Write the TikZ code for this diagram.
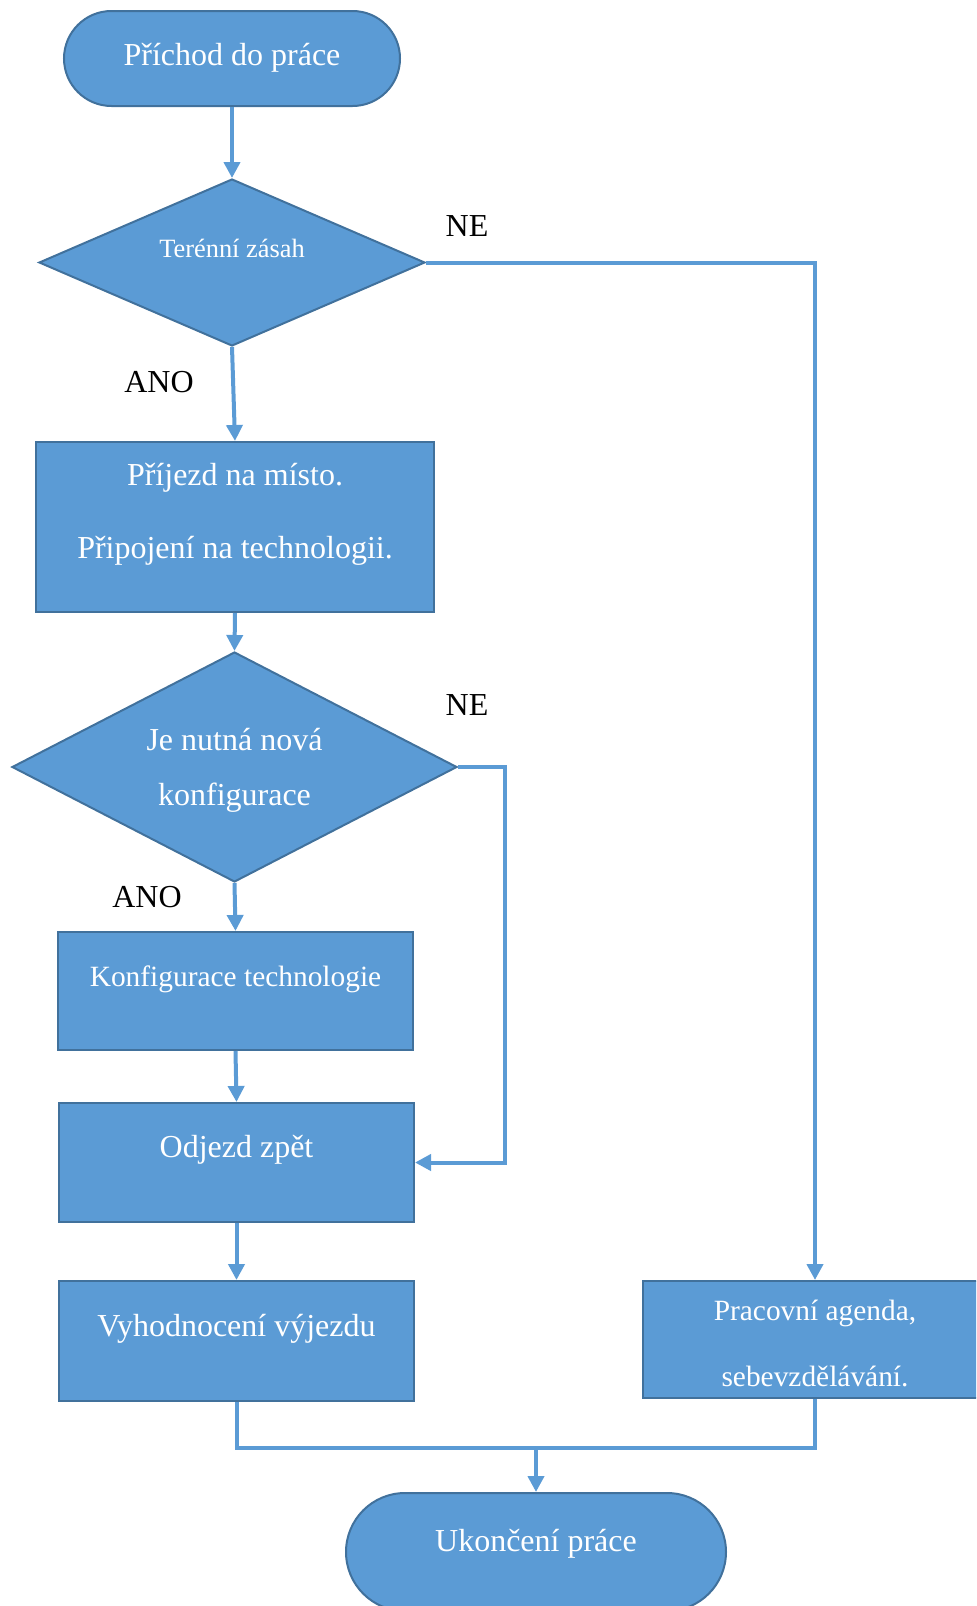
\documentclass[tikz,border=0pt]{standalone}
\usepackage{fontspec}
\setmainfont{Liberation Serif}
\usetikzlibrary{shapes.geometric,arrows.meta}
\definecolor{fillblue}{HTML}{5B9BD5}
\definecolor{edgeblue}{HTML}{41719C}
\begin{document}
\begin{tikzpicture}[x=0.5pt,y=-0.5pt,
  shapebase/.style={draw=edgeblue,fill=fillblue,line width=1pt,inner sep=0pt},
  procbox/.style={shapebase,rectangle},
  termbox/.style={shapebase,rectangle,rounded corners=#1},
  decbox/.style={shapebase,diamond},
  intext/.style={text=white,font=\fontsize{16}{19}\selectfont,anchor=base,inner sep=0pt},
  smalltext/.style={intext,font=\fontsize{14.7}{18}\selectfont},
  lbl/.style={text=black,font=\fontsize{16}{19}\selectfont,anchor=base,inner sep=0pt},
  conn/.style={draw=fillblue,line width=2pt},
  arr/.style={conn,-{Triangle[length=8pt,width=8pt]}}]
\clip (0,0) rectangle (976,1606);
\useasboundingbox (0,0) rectangle (976,1606);
% shapes
\node[termbox=23.75pt,minimum width=168pt,minimum height=47.5pt] (start) at (232,58.5) {};
\node[decbox,minimum width=193pt,minimum height=83.5pt] (d1) at (232,262.5) {};
\node[procbox,minimum width=199pt,minimum height=85pt] (box1) at (235,527) {};
\node[decbox,minimum width=222.5pt,minimum height=115pt] (d2) at (234.5,767) {};
\node[procbox,minimum width=177.5pt,minimum height=59pt] (box2) at (235.5,991) {};
\node[procbox,minimum width=177.5pt,minimum height=59.5pt] (box3) at (236.5,1162.5) {};
\node[procbox,minimum width=177.5pt,minimum height=60pt] (box4) at (236.5,1341) {};
\node[procbox,minimum width=172pt,minimum height=58.5pt] (box5) at (815,1339.5) {};
\node[termbox=29.5pt,minimum width=190pt,minimum height=59pt] (end) at (536,1552) {};
% texts
\node[intext] (tstart) at (232,65) {Příchod do práce};
\node[intext,font=\fontsize{13.2}{16}\selectfont] (td1) at (232,257) {Terénní zásah};
\node[lbl] (ne1) at (467,236) {NE};
\node[lbl] (ano1) at (159,392) {ANO};
\node[intext] (tb1a) at (235,485) {Příjezd na místo.};
\node[intext] (tb1b) at (235,558) {Připojení na technologii.};
\node[intext] (td2a) at (234.5,750) {Je nutná nová};
\node[intext] (td2b) at (234.5,805) {konfigurace};
\node[lbl] (ne2) at (467,715) {NE};
\node[lbl] (ano2) at (147,907) {ANO};
\node[smalltext] (tb2) at (235.5,986) {Konfigurace technologie};
\node[intext] (tb3) at (236.5,1157) {Odjezd zpět};
\node[intext] (tb4) at (236.5,1336) {Vyhodnocení výjezdu};
\node[smalltext] (tb5a) at (815,1320) {Pracovní agenda,};
\node[smalltext] (tb5b) at (815,1386) {sebevzdělávání.};
\node[intext] (tend) at (536,1551) {Ukončení práce};
% connectors
\coordinate (bend2) at (505,767);
\coordinate (merge) at (536,1448);
\draw[arr] (start.south) -- (d1.north);
\draw[arr] (d1.east) -| (box5.north);
\draw[arr] (d1.south) -- (box1.north);
\draw[arr] (box1.south) -- (d2.north);
\draw[arr] (d2.east) -- (bend2) |- (box3.east);
\draw[arr] (d2.south) -- (box2.north);
\draw[arr] (box2.south) -- (box3.north);
\draw[arr] (box3.south) -- (box4.north);
\draw[conn] (box4.south) |- (merge) -| (box5.south);
\draw[arr] (merge) -- (end.north);
\end{tikzpicture}
\end{document}
